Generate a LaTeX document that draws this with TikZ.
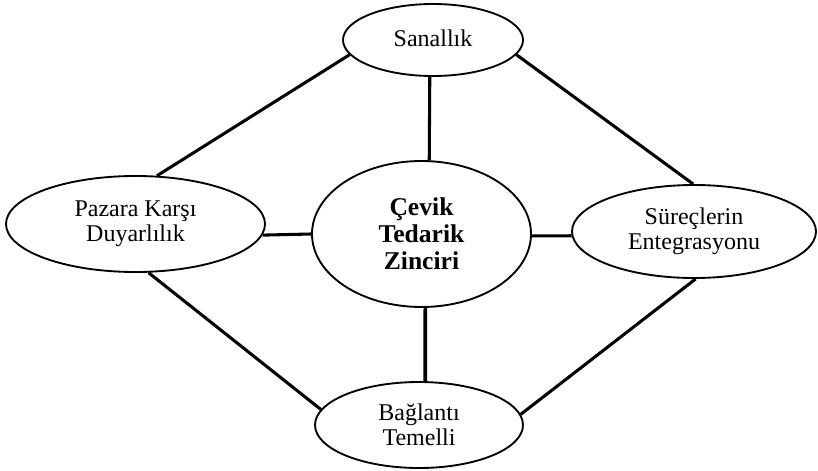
\documentclass[tikz,border=0pt]{standalone}
\usepackage{fontspec}
\setmainfont{Liberation Serif}
\usetikzlibrary{shapes.geometric}
\begin{document}
\begin{tikzpicture}[x=0.75pt,y=-0.75pt,
  oval/.style={ellipse,draw,line width=1.4pt,inner sep=0pt,align=center,
    font=\fontsize{18}{19}\selectfont},
  conn/.style={line width=2.3pt}]
\useasboundingbox (0,0) rectangle (818,471);
\node[oval,minimum width=135pt,minimum height=54pt] (san) at (433,40) {\raisebox{3pt}{Sanallık}};
\node[oval,minimum width=164.25pt,minimum height=109.5pt,
  font=\fontsize{19.2}{20.4}\selectfont\bfseries] (c) at (421.5,234) {Çevik\\Tedarik\\Zinciri};
\node[oval,minimum width=194.25pt,minimum height=72pt] (paz) at (135.5,224) {Pazara Karşı\\Duyarlılık};
\node[oval,minimum width=183pt,minimum height=69.75pt] (sur) at (694,231.5) {Süreçlerin\\Entegrasyonu};
\node[oval,minimum width=156pt,minimum height=64.5pt] (bag) at (419,425) {Bağlantı\\Temelli};
\draw[conn] (san.190) -- (paz.66);
\draw[conn] (san.350) -- (sur.91);
\draw[conn] (san.265) -- (c.84);
\draw[conn] (c.180) -- (paz.355.5);
\draw[conn] (c.359) -- (sur.182);
\draw[conn,line width=2.8pt] (c.273) -- (bag.82);
\draw[conn] (paz.285) -- (bag.171);
\draw[conn] (sur.272) -- (bag.6);
\end{tikzpicture}
\end{document}
